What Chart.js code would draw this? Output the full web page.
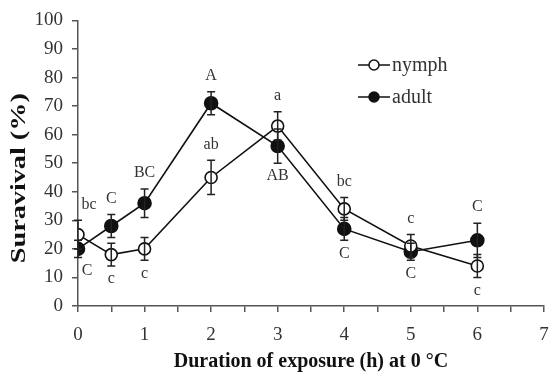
<!DOCTYPE html>
<html>
<head>
<meta charset="utf-8">
<script src="https://cdn.jsdelivr.net/npm/chart.js@4"></script>
<style>
  html, body { margin: 0; padding: 0; background: #fff; }
  #wrap { width: 552px; height: 378px; position: relative; }
</style>
</head>
<body>
<div id="wrap"><canvas id="chart"></canvas></div>
<script>
// --- data ---
const hours = [0, 0.5, 1, 2, 3, 4, 5, 6];
const nymphVals = [25, 18, 20, 45, 63, 34, 21, 14];
const nymphErr  = [5, 4, 4, 6, 5, 4, 4, 4];
const nymphLetters = ['bc', 'c', 'c', 'ab', 'a', 'bc', 'c', 'c'];
const nymphLetterPos = ['up', 'down', 'down', 'up', 'up', 'up', 'up', 'down'];
const adultVals = [20, 28, 36, 71, 56, 27, 19, 23];
const adultErr  = [3, 4, 5, 4, 6, 4, 3, 6];
const adultLetters = ['C', 'C', 'BC', 'A', 'AB', 'C', 'C', 'C'];
const adultLetterPos = ['down', 'up', 'up', 'up', 'down', 'down', 'down', 'up'];
const seriesNames = ['nymph', 'adult'];
const yTitle = 'Suravival (%)';

const SERIF = '"Liberation Serif", "DejaVu Serif", serif';

// error bars, letters, legend and the (stretched) y title
const extras = {
    id: 'extras',
    afterDatasetsDraw(chart) {
        const ctx = chart.ctx, xs = chart.scales.x, ys = chart.scales.y;
        const sets = [
            { v: nymphVals, e: nymphErr, l: nymphLetters, p: nymphLetterPos },
            { v: adultVals, e: adultErr, l: adultLetters, p: adultLetterPos }
        ];
        ctx.save();
        ctx.strokeStyle = '#222'; ctx.lineWidth = 1.5;
        sets.forEach(s => {
            hours.forEach((h, i) => {
                const x = xs.getPixelForValue(h);
                const top = ys.getPixelForValue(s.v[i] + s.e[i]);
                const bot = ys.getPixelForValue(s.v[i] - s.e[i]);
                ctx.beginPath();
                ctx.moveTo(x, top); ctx.lineTo(x, bot);
                ctx.moveTo(x - 4, top); ctx.lineTo(x + 4, top);
                ctx.moveTo(x - 4, bot); ctx.lineTo(x + 4, bot);
                ctx.stroke();
            });
        });
        ctx.fillStyle = '#333';
        ctx.font = '16px ' + SERIF;
        ctx.textAlign = 'center';
        sets.forEach((s, k) => {
            hours.forEach((h, i) => {
                let x = xs.getPixelForValue(h);
                if (h === 0) x += (s.p[i] === 'up' ? 11 : 9);
                let y;
                if (s.p[i] === 'up') {
                    y = ys.getPixelForValue(s.v[i] + s.e[i]) - 8;
                    ctx.textBaseline = 'bottom';
                } else {
                    y = ys.getPixelForValue(s.v[i] - s.e[i]) + 5;
                    ctx.textBaseline = 'top';
                }
                ctx.fillText(s.l[i], x, y);
            });
        });
        // legend
        const lx = 358, ly = [65, 97];
        ctx.font = '20px ' + SERIF;
        ctx.textAlign = 'left'; ctx.textBaseline = 'middle';
        seriesNames.forEach((name, k) => {
            ctx.strokeStyle = '#111'; ctx.lineWidth = 1.5;
            ctx.beginPath(); ctx.moveTo(lx, ly[k]); ctx.lineTo(lx + 32, ly[k]); ctx.stroke();
            ctx.beginPath(); ctx.arc(lx + 16, ly[k], 5, 0, Math.PI * 2);
            ctx.fillStyle = k === 0 ? '#fff' : '#111';
            ctx.fill(); ctx.stroke();
            ctx.fillStyle = '#333';
            ctx.fillText(name, lx + 34, ly[k] + 1);
        });
        // y title, stretched along its length like the source image
        ctx.font = 'bold 21px ' + SERIF;
        ctx.fillStyle = '#111';
        ctx.textAlign = 'center'; ctx.textBaseline = 'middle';
        const w = ctx.measureText(yTitle).width;
        ctx.translate(20, (ys.top + ys.bottom) / 2 + 15);
        ctx.rotate(-Math.PI / 2);
        ctx.scale(170 / w, 1);
        ctx.fillText(yTitle, 0, 0);
        ctx.restore();
    }
};

new Chart(document.getElementById('chart'), {
    type: 'scatter',
    data: {
        datasets: [
            {
                label: 'nymph',
                data: hours.map((h, i) => ({ x: h, y: nymphVals[i] })),
                showLine: true, borderColor: '#111', borderWidth: 1.6,
                pointRadius: 6, pointBackgroundColor: '#fff', pointBorderColor: '#111', pointBorderWidth: 1.6
            },
            {
                label: 'adult',
                data: hours.map((h, i) => ({ x: h, y: adultVals[i] })),
                showLine: true, borderColor: '#111', borderWidth: 1.6,
                pointRadius: 6.5, pointBackgroundColor: '#111', pointBorderColor: '#111', pointBorderWidth: 1.6
            }
        ]
    },
    options: {
        responsive: true,
        maintainAspectRatio: false,
        animation: false,
        layout: { padding: { top: 18, right: 1, left: 0, bottom: 0 } },
        plugins: { legend: { display: false }, tooltip: { enabled: false } },
        scales: {
            x: {
                type: 'linear', min: 0, max: 7,
                afterBuildTicks: s => { s.ticks = [0,0.5,1,1.5,2,2.5,3,3.5,4,4.5,5,5.5,6,6.5,7].map(v => ({ value: v })); },
                afterFit: s => { s.height = 72; s.paddingRight = 0; s.paddingLeft = 0; },
                border: { color: '#555', width: 1.5 },
                grid: { drawOnChartArea: false, color: '#555', tickLength: 6, lineWidth: 1.5 },
                ticks: {
                    color: '#333', font: { family: SERIF, size: 19 }, padding: 12, maxRotation: 0,
                    autoSkip: false,
                    callback: v => Number.isInteger(v) ? v : ''
                },
                title: {
                    display: true, text: 'Duration of exposure (h) at 0 °C', color: '#111',
                    font: { family: SERIF, size: 20, weight: 'bold' }, padding: { top: 0 }
                }
            },
            y: {
                min: 0, max: 100,
                afterFit: s => { s.width = 78; },
                border: { color: '#555', width: 1.5 },
                grid: { drawOnChartArea: false, color: '#555', tickLength: 6, lineWidth: 1.5 },
                ticks: { stepSize: 10, color: '#333', font: { family: SERIF, size: 19 }, padding: 9 },
                title: { display: false }
            }
        }
    },
    plugins: [extras]
});
</script>
</body>
</html>
